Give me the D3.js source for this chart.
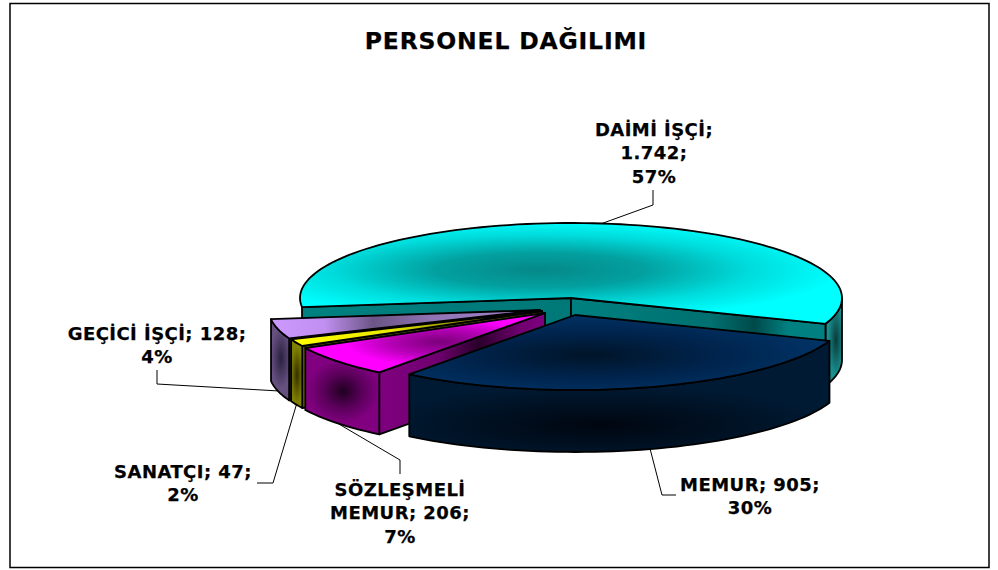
<!DOCTYPE html>
<html>
<head>
<meta charset="utf-8">
<script src="https://cdn.jsdelivr.net/npm/d3@7"></script>
<style>
  html, body { margin: 0; background: #fff; }
  text { font-family: "DejaVu Sans", Verdana, sans-serif; font-weight: bold; fill: #000; stroke: #000; stroke-width: 0.25; }
</style>
</head>
<body>
<svg id="chart" width="998" height="570" style="display:block"></svg>
<script>
const title = 'PERSONEL DAĞILIMI'
const categories = ['DAİMİ İŞÇİ', 'MEMUR', 'SÖZLEŞMELİ MEMUR', 'SANATÇI', 'GEÇİCİ İŞÇİ']
const values = [1742, 905, 206, 47, 128]
const valueLabels = ['1.742', '905', '206', '47', '128']
const percents = ['57%', '30%', '7%', '2%', '4%']
// how many words of the label go on each line
const labelBreaks = [[2, 1, 1], [2, 1], [1, 2, 1], [2, 1], [3, 1]]

const rad = Math.PI / 180
// pie ellipse and wall height
const rx = 271
const ry = 75
const depth = 62

// centre of every (exploded) slice
const centers = [[571, 298], [575, 315], [545, 313], [542, 311], [540, 310]]
// label centre x, first baseline, elbows of the leader line
const labelPos = [
  {x: 654, y: 136, elbows: [[653, 205], [653, 190]]},
  {x: 750, y: 491, elbows: [[662, 495], [676, 495]]},
  {x: 400, y: 496, elbows: [[400, 460], [400, 474]]},
  {x: 183, y: 478, elbows: [[273, 483], [257, 483]]},
  {x: 157, y: 340, elbows: [[157, 384], [157, 370]]}
]

const svg = d3.select('#chart')
const defs = svg.append('defs')

// scales of the unit circle on to the ellipse
const scaleX = d3.scaleLinear().domain([-1, 1]).range([-rx, rx])
const scaleY = d3.scaleLinear().domain([-1, 1]).range([-ry, ry])

// d3 pie angle 0 is up, first slice starts at 263 degrees
const pie = d3.pie().sort(null).startAngle(263 * rad).endAngle((263 + 360) * rad)
const slices = pie(values)

const line = d3.line()

function point(i, a, down) {
  return [
    centers[i][0] + scaleX(Math.sin(a)),
    centers[i][1] + scaleY(-Math.cos(a)) + (down ? depth : 0)
  ]
}

function arcPoints(i, a0, a1, down) {
  const n = Math.max(2, Math.ceil((a1 - a0) / (2 * rad)))
  return d3.range(n + 1).map(k => point(i, a0 + (a1 - a0) * k / n, down))
}

function radial(id, cx, cy, r, sy, stops) {
  const g = defs.append('radialGradient')
    .attr('id', id)
    .attr('gradientUnits', 'userSpaceOnUse')
    .attr('cx', 0).attr('cy', 0).attr('r', 1)
    .attr('gradientTransform', `translate(${cx},${cy}) scale(${r},${sy})`)
  stops.forEach(s => g.append('stop').attr('offset', s[0]).attr('stop-color', s[1]))
}

function linear(id, x1, x2, stops) {
  const g = defs.append('linearGradient')
    .attr('id', id)
    .attr('gradientUnits', 'userSpaceOnUse')
    .attr('x1', x1).attr('x2', x2).attr('y1', 0).attr('y2', 0)
  stops.forEach(s => g.append('stop').attr('offset', s[0]).attr('stop-color', s[1]))
}

// cyan slice
radial('top0', 540, 270, 300, 50, [[0, '#058888'], [0.35, '#03a0a0'], [0.7, '#00dcdc'], [1, '#00ffff']])
linear('cut0', 571, 826, [[0, '#008080'], [0.55, '#007070'], [0.72, '#004a4a'], [0.85, '#008080'], [1, '#008080']])
linear('cutb0', 301, 571, [[0, '#008080'], [1, '#007878']])
radial('wall0', 836, 340, 8, 36, [[0, '#0a3a3a'], [1, '#1a9090']])
// navy slice
radial('top1', 590, 355, 240, 42, [[0, '#001428'], [0.5, '#00234b'], [1, '#003366']])
radial('wall1', 600, 425, 230, 40, [[0, '#000610'], [1, '#001a33']])
// magenta slice
radial('top2', 440, 342, 95, 24, [[0, '#7a007a'], [0.55, '#b800b8'], [1, '#ff00ff']])
radial('wall2', 343, 391, 36, 32, [[0, '#200020'], [0.55, '#5c005c'], [1, '#800080']])
linear('cut2', 379, 545, [[0, '#800080'], [0.35, '#700070'], [0.6, '#2a002a'], [0.85, '#700070'], [1, '#800080']])
// yellow slice
linear('top3', 292, 540, [[0, '#ffff00'], [0.4, '#e8e800'], [0.7, '#8a8a00'], [1, '#aaaa00']])
radial('wall3', 297, 375, 6, 28, [[0, '#332f00'], [1, '#808000']])
linear('cut3', 302, 540, [[0, '#808000'], [1, '#404000']])
// lilac slice
linear('top4', 271, 540, [[0, '#cc99ff'], [0.2, '#c08ff0'], [0.38, '#6b5585'], [0.6, '#8f73b3'], [1, '#a688d0']])
radial('wall4', 281, 358, 10, 30, [[0, '#2a2040'], [1, '#66507f']])
linear('cut4', 290, 540, [[0, '#4a3a5c'], [1, '#2a2040']])

// chart frame
svg.append('rect')
  .attr('x', 10).attr('y', 3.5)
  .attr('width', 979).attr('height', 564)
  .attr('fill', '#fff').attr('stroke', '#000').attr('stroke-width', 1.5)

const pieLayer = svg.append('g')
  .attr('stroke', '#000')
  .attr('stroke-width', 1.8)
  .attr('stroke-linejoin', 'round')

// wall from slice centre out to the edge at angle a
function drawCut(i, a, fill) {
  const c = centers[i]
  const p = point(i, a, false)
  pieLayer.append('path')
    .attr('d', line([c, p, [p[0], p[1] + depth], [c[0], c[1] + depth]]) + 'Z')
    .attr('fill', `url(#${fill})`)
}

// curved outer wall
function drawWall(i, a0, a1, fill) {
  const top = arcPoints(i, a0, a1, false)
  const bottom = arcPoints(i, a0, a1, true).reverse()
  pieLayer.append('path')
    .attr('d', line(top.concat(bottom)) + 'Z')
    .attr('fill', `url(#${fill})`)
}

function drawTop(i) {
  const s = slices[i]
  const pts = [centers[i]].concat(arcPoints(i, s.startAngle, s.endAngle, false))
  pieLayer.append('path')
    .attr('d', line(pts) + 'Z')
    .attr('fill', `url(#top${i})`)
}

// back slice first, only its right end of the wall faces the viewer
const s0 = slices[0]
drawWall(0, 450 * rad, s0.endAngle, 'wall0')
drawCut(0, s0.startAngle, 'cutb0')
drawCut(0, s0.endAngle, 'cut0')
drawTop(0)

// left hand slices, far one first
;[4, 3, 2].forEach(i => {
  const s = slices[i]
  drawCut(i, s.startAngle, `cut${i}`)
  drawWall(i, s.startAngle, s.endAngle, `wall${i}`)
  drawTop(i)
})

// navy slice in front
drawWall(1, slices[1].startAngle, slices[1].endAngle, 'wall1')
drawTop(1)

// leader lines start at the middle of every slice's outer edge
slices.forEach((s, i) => {
  const mid = (s.startAngle + s.endAngle) / 2
  const pts = [point(i, mid, i !== 0)].concat(labelPos[i].elbows)
  svg.append('path')
    .attr('d', line(pts))
    .attr('fill', 'none')
    .attr('stroke', '#000')
    .attr('stroke-width', 1)
})

// title
svg.append('text')
  .attr('x', 506).attr('y', 49)
  .attr('text-anchor', 'middle')
  .attr('font-size', 23.5)
  .attr('letter-spacing', 0.8)
  .text(title)

// data labels
categories.forEach((cat, i) => {
  const words = `${cat}; ${valueLabels[i]}; ${percents[i]}`.split(' ')
  const t = svg.append('text')
    .attr('text-anchor', 'middle')
    .attr('font-size', 18)
    .attr('letter-spacing', 0.45)
  let used = 0
  labelBreaks[i].forEach((count, k) => {
    t.append('tspan')
      .attr('x', labelPos[i].x)
      .attr('y', labelPos[i].y + k * 23.3)
      .text(words.slice(used, used + count).join(' '))
    used += count
  })
})
</script>
</body>
</html>
